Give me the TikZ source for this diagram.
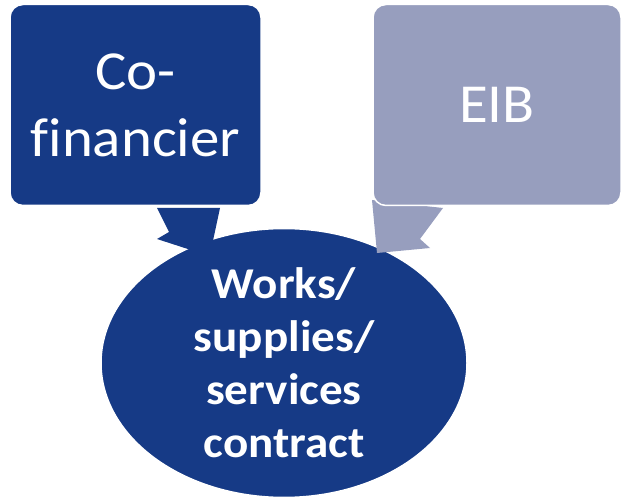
\documentclass[tikz,border=0pt]{standalone}
\usepackage{fontspec}
\setmainfont{Carlito}[FakeStretch=1.07, Ligatures={NoCommon}]
\usetikzlibrary{shapes.geometric}
\definecolor{dblue}{RGB}{22,58,134}
\definecolor{lblue}{RGB}{151,158,190}
\begin{document}
\begin{tikzpicture}[x=1pt,y=-1pt,
  box/.style={rounded corners=13pt, draw=white, line width=1.5pt, minimum width=251pt, minimum height=201pt, text=white, align=center, font=\fontsize{55}{67}\selectfont, inner sep=0pt},
  contract/.style={ellipse, fill=dblue, draw=white, line width=1.5pt, minimum width=366pt, minimum height=260pt, inner sep=0pt, text=white, align=center, font=\bfseries\fontsize{44}{53}\selectfont}]
\useasboundingbox (0,0) rectangle (621,497);
\node[contract] (con) at (284,363) {Works/\\supplies/\\services\\contract};
\fill[dblue] (157,208) -- (220,208) -- (211,250) -- (194,251) -- (157,239) -- (169,232) -- cycle;
\fill[lblue] (372,200) -- (443,208) -- (420,239) -- (430,248) -- (377,253) -- cycle;
\node[box, fill=dblue] (cof) at (135.5,105) {Co-\\financier};
\node[box, fill=lblue, minimum width=248pt] (eib) at (497,105) {EIB};
\end{tikzpicture}
\end{document}
